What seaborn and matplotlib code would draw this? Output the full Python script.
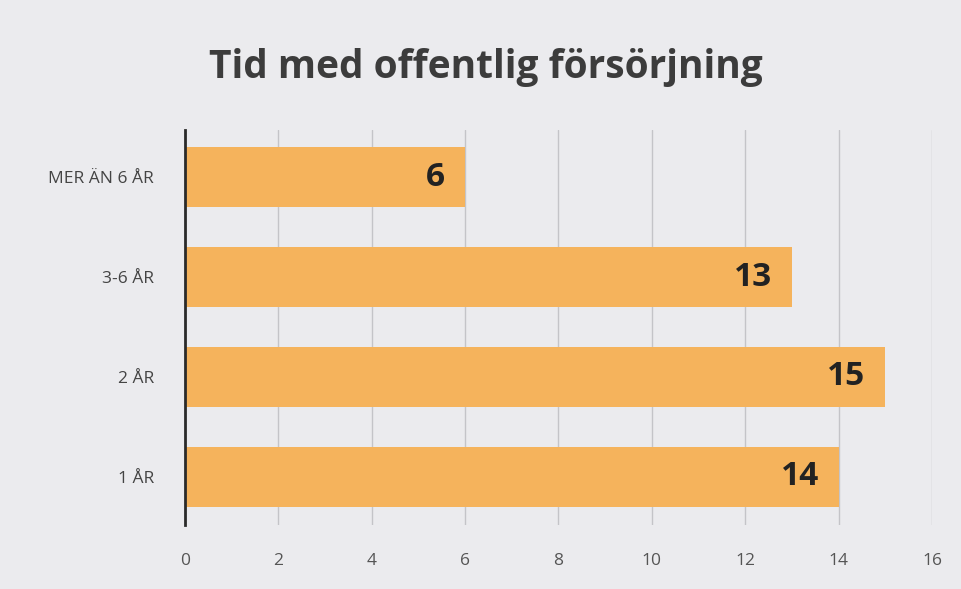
import matplotlib
matplotlib.use("Agg")
import matplotlib.pyplot as plt
import seaborn as sns
import pandas as pd

categories = ["MER ÄN 6 ÅR", "3-6 ÅR", "2 ÅR", "1 ÅR"]
values = [6, 13, 15, 14]
xticks = [0, 2, 4, 6, 8, 10, 12, 14, 16]
title = "Tid med offentlig försörjning"

sns.set_theme(style="white")
plt.rcParams['font.family'] = ['Open Sans', 'DejaVu Sans']

df = pd.DataFrame({"kategori": categories, "antal": values})

fig = plt.figure(figsize=(9.62, 5.89), dpi=100)
fig.patch.set_facecolor("#ebebee")
ax = fig.add_axes([0.192, 0.109, 0.777, 0.670])
ax.set_facecolor("#ebebee")

sns.barplot(data=df, x="antal", y="kategori", orient="h", color="#f5b35c",
            width=0.6, saturation=1, ax=ax, order=categories, linewidth=0)

ax.set_xlim(0, 16)
ax.set_ylim(3.48, -0.47)
ax.set_xticks(xticks)
ax.set_xticklabels([str(t) for t in xticks], fontsize=12.5, color="#555555")
ax.tick_params(axis="y", labelsize=12.5, labelcolor="#444444", length=0, pad=22)
ax.tick_params(axis="x", length=0, pad=20)
ax.set_xlabel("")
ax.set_ylabel("")
ax.grid(axis="x", color="#c4c4c8", linewidth=1)
ax.set_axisbelow(True)
for s in ["top", "right", "bottom"]:
    ax.spines[s].set_visible(False)
ax.spines["left"].set_color("#2a2a2a")
ax.spines["left"].set_linewidth(2)

for i, v in enumerate(values):
    ax.annotate(str(v), xy=(v, i), xytext=(-20, 0), textcoords="offset pixels",
                ha="right", va="center", fontsize=24, fontweight="bold", color="#222222")

fig.text(0.505, 0.885, title, ha="center", va="center", fontsize=28,
         fontweight="bold", color="#3c3c3c")

fig.savefig("out.png", dpi=100, facecolor=fig.get_facecolor())
